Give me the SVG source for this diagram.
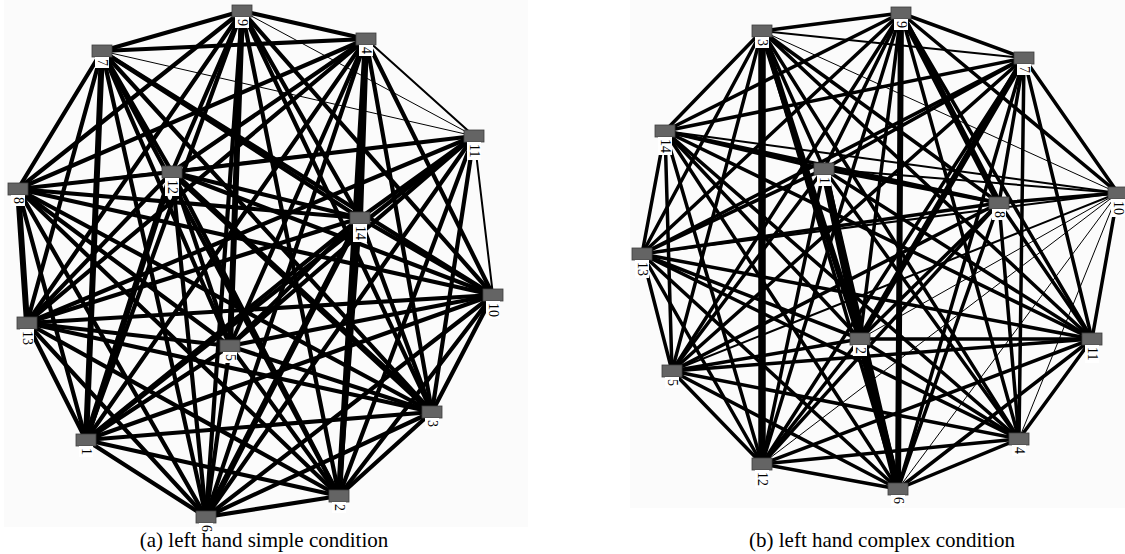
<svg xmlns="http://www.w3.org/2000/svg" width="1125" height="554" viewBox="0 0 1125 554">
<style>
.bg{fill:#fbfbfb}
.edges line{stroke:#000;stroke-linecap:round}
.t{stroke-width:1}
.n{stroke-width:2}
.k{stroke-width:6}
.K{stroke-width:7.5}
.nd{fill:#646464;stroke:#3c3c3c;stroke-width:0.8}
.lb{fill:#fff}
.lt{font-family:"Liberation Serif","Times New Roman",serif;font-size:14px;fill:#000}
.cap{font-family:"Liberation Serif","Times New Roman",serif;font-size:21px;fill:#000;text-anchor:middle}
</style>
<rect x="0" y="0" width="1125" height="554" fill="#fff"/>
<rect class="bg" x="4" y="0" width="524" height="527"/>
<rect class="bg" x="630" y="0" width="495" height="508"/>

<g id="edges-a" class="edges" stroke-width="4.2">
<line x1="86" y1="440" x2="339" y2="496"/>
<line x1="86" y1="440" x2="432" y2="412"/>
<line x1="86" y1="440" x2="366" y2="39"/>
<line x1="86" y1="440" x2="230" y2="346"/>
<line x1="86" y1="440" x2="206" y2="517"/>
<line x1="86" y1="440" x2="102" y2="51" class="k"/>
<line x1="86" y1="440" x2="18" y2="189"/>
<line x1="86" y1="440" x2="242" y2="11"/>
<line x1="86" y1="440" x2="493" y2="295"/>
<line x1="86" y1="440" x2="474" y2="136"/>
<line x1="86" y1="440" x2="172" y2="172" class="k"/>
<line x1="86" y1="440" x2="27" y2="323"/>
<line x1="86" y1="440" x2="360" y2="218"/>
<line x1="339" y1="496" x2="432" y2="412"/>
<line x1="339" y1="496" x2="366" y2="39" class="k"/>
<line x1="339" y1="496" x2="230" y2="346"/>
<line x1="339" y1="496" x2="206" y2="517"/>
<line x1="339" y1="496" x2="102" y2="51"/>
<line x1="339" y1="496" x2="18" y2="189"/>
<line x1="339" y1="496" x2="242" y2="11"/>
<line x1="339" y1="496" x2="493" y2="295"/>
<line x1="339" y1="496" x2="474" y2="136"/>
<line x1="339" y1="496" x2="172" y2="172"/>
<line x1="339" y1="496" x2="27" y2="323"/>
<line x1="339" y1="496" x2="360" y2="218"/>
<line x1="432" y1="412" x2="366" y2="39"/>
<line x1="432" y1="412" x2="230" y2="346"/>
<line x1="432" y1="412" x2="206" y2="517"/>
<line x1="432" y1="412" x2="102" y2="51"/>
<line x1="432" y1="412" x2="18" y2="189"/>
<line x1="432" y1="412" x2="242" y2="11"/>
<line x1="432" y1="412" x2="493" y2="295"/>
<line x1="432" y1="412" x2="474" y2="136"/>
<line x1="432" y1="412" x2="172" y2="172" class="k"/>
<line x1="432" y1="412" x2="27" y2="323"/>
<line x1="432" y1="412" x2="360" y2="218"/>
<line x1="366" y1="39" x2="230" y2="346"/>
<line x1="366" y1="39" x2="206" y2="517"/>
<line x1="366" y1="39" x2="102" y2="51"/>
<line x1="366" y1="39" x2="18" y2="189"/>
<line x1="366" y1="39" x2="242" y2="11"/>
<line x1="366" y1="39" x2="493" y2="295"/>
<line x1="366" y1="39" x2="474" y2="136" class="n"/>
<line x1="366" y1="39" x2="172" y2="172"/>
<line x1="366" y1="39" x2="27" y2="323"/>
<line x1="366" y1="39" x2="360" y2="218" class="k"/>
<line x1="230" y1="346" x2="206" y2="517"/>
<line x1="230" y1="346" x2="102" y2="51"/>
<line x1="230" y1="346" x2="18" y2="189"/>
<line x1="230" y1="346" x2="242" y2="11" class="k"/>
<line x1="230" y1="346" x2="493" y2="295"/>
<line x1="230" y1="346" x2="474" y2="136"/>
<line x1="230" y1="346" x2="172" y2="172"/>
<line x1="230" y1="346" x2="27" y2="323"/>
<line x1="230" y1="346" x2="360" y2="218"/>
<line x1="206" y1="517" x2="102" y2="51"/>
<line x1="206" y1="517" x2="18" y2="189"/>
<line x1="206" y1="517" x2="242" y2="11"/>
<line x1="206" y1="517" x2="493" y2="295"/>
<line x1="206" y1="517" x2="474" y2="136"/>
<line x1="206" y1="517" x2="172" y2="172"/>
<line x1="206" y1="517" x2="27" y2="323"/>
<line x1="206" y1="517" x2="360" y2="218" class="k"/>
<line x1="102" y1="51" x2="18" y2="189"/>
<line x1="102" y1="51" x2="242" y2="11"/>
<line x1="102" y1="51" x2="493" y2="295"/>
<line x1="102" y1="51" x2="474" y2="136" class="t"/>
<line x1="102" y1="51" x2="172" y2="172"/>
<line x1="102" y1="51" x2="27" y2="323"/>
<line x1="102" y1="51" x2="360" y2="218"/>
<line x1="18" y1="189" x2="242" y2="11"/>
<line x1="18" y1="189" x2="493" y2="295"/>
<line x1="18" y1="189" x2="474" y2="136" class="n"/>
<line x1="18" y1="189" x2="172" y2="172"/>
<line x1="18" y1="189" x2="27" y2="323" class="k"/>
<line x1="18" y1="189" x2="360" y2="218"/>
<line x1="242" y1="11" x2="493" y2="295"/>
<line x1="242" y1="11" x2="474" y2="136" class="t"/>
<line x1="242" y1="11" x2="172" y2="172"/>
<line x1="242" y1="11" x2="27" y2="323"/>
<line x1="242" y1="11" x2="360" y2="218"/>
<line x1="493" y1="295" x2="474" y2="136" class="n"/>
<line x1="493" y1="295" x2="172" y2="172"/>
<line x1="493" y1="295" x2="27" y2="323"/>
<line x1="493" y1="295" x2="360" y2="218"/>
<line x1="474" y1="136" x2="172" y2="172"/>
<line x1="474" y1="136" x2="27" y2="323"/>
<line x1="474" y1="136" x2="360" y2="218"/>
<line x1="172" y1="172" x2="27" y2="323"/>
<line x1="172" y1="172" x2="360" y2="218"/>
<line x1="27" y1="323" x2="360" y2="218"/>
</g>

<g id="edges-b" class="edges" stroke-width="3.5">
<line x1="824" y1="169" x2="860" y2="339" class="K"/>
<line x1="824" y1="169" x2="762" y2="31"/>
<line x1="824" y1="169" x2="1019" y2="439"/>
<line x1="824" y1="169" x2="672" y2="371"/>
<line x1="824" y1="169" x2="898" y2="489" class="k"/>
<line x1="824" y1="169" x2="1024" y2="58"/>
<line x1="824" y1="169" x2="999" y2="203"/>
<line x1="824" y1="169" x2="901" y2="13"/>
<line x1="824" y1="169" x2="1118" y2="193" class="n"/>
<line x1="824" y1="169" x2="1092" y2="339"/>
<line x1="824" y1="169" x2="762" y2="464"/>
<line x1="824" y1="169" x2="642" y2="254"/>
<line x1="824" y1="169" x2="665" y2="131"/>
<line x1="860" y1="339" x2="762" y2="31" class="k"/>
<line x1="860" y1="339" x2="1019" y2="439"/>
<line x1="860" y1="339" x2="672" y2="371"/>
<line x1="860" y1="339" x2="898" y2="489" class="K"/>
<line x1="860" y1="339" x2="1024" y2="58" class="k"/>
<line x1="860" y1="339" x2="999" y2="203"/>
<line x1="860" y1="339" x2="901" y2="13"/>
<line x1="860" y1="339" x2="1118" y2="193" class="t"/>
<line x1="860" y1="339" x2="1092" y2="339"/>
<line x1="860" y1="339" x2="762" y2="464"/>
<line x1="860" y1="339" x2="642" y2="254"/>
<line x1="860" y1="339" x2="665" y2="131"/>
<line x1="762" y1="31" x2="1019" y2="439"/>
<line x1="762" y1="31" x2="672" y2="371"/>
<line x1="762" y1="31" x2="898" y2="489"/>
<line x1="762" y1="31" x2="1024" y2="58" class="n"/>
<line x1="762" y1="31" x2="999" y2="203"/>
<line x1="762" y1="31" x2="901" y2="13"/>
<line x1="762" y1="31" x2="1118" y2="193" class="t"/>
<line x1="762" y1="31" x2="1092" y2="339"/>
<line x1="762" y1="31" x2="762" y2="464" class="K"/>
<line x1="762" y1="31" x2="642" y2="254"/>
<line x1="762" y1="31" x2="665" y2="131"/>
<line x1="1019" y1="439" x2="672" y2="371"/>
<line x1="1019" y1="439" x2="898" y2="489"/>
<line x1="1019" y1="439" x2="1024" y2="58"/>
<line x1="1019" y1="439" x2="999" y2="203"/>
<line x1="1019" y1="439" x2="901" y2="13"/>
<line x1="1019" y1="439" x2="1118" y2="193" class="t"/>
<line x1="1019" y1="439" x2="1092" y2="339"/>
<line x1="1019" y1="439" x2="762" y2="464"/>
<line x1="1019" y1="439" x2="642" y2="254"/>
<line x1="1019" y1="439" x2="665" y2="131"/>
<line x1="672" y1="371" x2="898" y2="489"/>
<line x1="672" y1="371" x2="1024" y2="58"/>
<line x1="672" y1="371" x2="999" y2="203"/>
<line x1="672" y1="371" x2="901" y2="13"/>
<line x1="672" y1="371" x2="1118" y2="193" class="n"/>
<line x1="672" y1="371" x2="1092" y2="339"/>
<line x1="672" y1="371" x2="762" y2="464"/>
<line x1="672" y1="371" x2="642" y2="254"/>
<line x1="672" y1="371" x2="665" y2="131"/>
<line x1="898" y1="489" x2="1024" y2="58"/>
<line x1="898" y1="489" x2="999" y2="203"/>
<line x1="898" y1="489" x2="901" y2="13" class="k"/>
<line x1="898" y1="489" x2="1118" y2="193" class="t"/>
<line x1="898" y1="489" x2="1092" y2="339"/>
<line x1="898" y1="489" x2="762" y2="464"/>
<line x1="898" y1="489" x2="642" y2="254"/>
<line x1="898" y1="489" x2="665" y2="131"/>
<line x1="1024" y1="58" x2="999" y2="203"/>
<line x1="1024" y1="58" x2="901" y2="13"/>
<line x1="1024" y1="58" x2="1118" y2="193"/>
<line x1="1024" y1="58" x2="1092" y2="339"/>
<line x1="1024" y1="58" x2="762" y2="464"/>
<line x1="1024" y1="58" x2="642" y2="254"/>
<line x1="1024" y1="58" x2="665" y2="131"/>
<line x1="999" y1="203" x2="901" y2="13" class="k"/>
<line x1="999" y1="203" x2="1118" y2="193"/>
<line x1="999" y1="203" x2="1092" y2="339"/>
<line x1="999" y1="203" x2="762" y2="464"/>
<line x1="999" y1="203" x2="642" y2="254"/>
<line x1="999" y1="203" x2="665" y2="131"/>
<line x1="901" y1="13" x2="1118" y2="193"/>
<line x1="901" y1="13" x2="1092" y2="339"/>
<line x1="901" y1="13" x2="762" y2="464"/>
<line x1="901" y1="13" x2="642" y2="254"/>
<line x1="901" y1="13" x2="665" y2="131"/>
<line x1="1118" y1="193" x2="1092" y2="339"/>
<line x1="1118" y1="193" x2="762" y2="464" class="t"/>
<line x1="1118" y1="193" x2="642" y2="254" class="n"/>
<line x1="1118" y1="193" x2="665" y2="131" class="n"/>
<line x1="1092" y1="339" x2="762" y2="464"/>
<line x1="1092" y1="339" x2="642" y2="254"/>
<line x1="1092" y1="339" x2="665" y2="131"/>
<line x1="762" y1="464" x2="642" y2="254"/>
<line x1="762" y1="464" x2="665" y2="131"/>
<line x1="642" y1="254" x2="665" y2="131"/>
</g>

<g id="a-n1"><rect class="nd" x="76" y="434" width="20" height="12"/><rect class="lb" x="79" y="446" width="14" height="11"/><text class="lt" transform="translate(82,448) rotate(90)">1</text></g>
<g id="a-n2"><rect class="nd" x="329" y="490" width="20" height="12"/><rect class="lb" x="332" y="502" width="14" height="11"/><text class="lt" transform="translate(335,504) rotate(90)">2</text></g>
<g id="a-n3"><rect class="nd" x="422" y="406" width="20" height="12"/><rect class="lb" x="425" y="418" width="14" height="11"/><text class="lt" transform="translate(428,420) rotate(90)">3</text></g>
<g id="a-n4"><rect class="nd" x="356" y="33" width="20" height="12"/><rect class="lb" x="359" y="45" width="14" height="11"/><text class="lt" transform="translate(362,47) rotate(90)">4</text></g>
<g id="a-n5"><rect class="nd" x="220" y="340" width="20" height="12"/><rect class="lb" x="223" y="352" width="14" height="11"/><text class="lt" transform="translate(226,354) rotate(90)">5</text></g>
<g id="a-n6"><rect class="nd" x="196" y="511" width="20" height="12"/><rect class="lb" x="199" y="523" width="14" height="11"/><text class="lt" transform="translate(202,525) rotate(90)">6</text></g>
<g id="a-n7"><rect class="nd" x="92" y="45" width="20" height="12"/><rect class="lb" x="95" y="57" width="14" height="11"/><text class="lt" transform="translate(98,59) rotate(90)">7</text></g>
<g id="a-n8"><rect class="nd" x="8" y="183" width="20" height="12"/><rect class="lb" x="11" y="195" width="14" height="11"/><text class="lt" transform="translate(14,197) rotate(90)">8</text></g>
<g id="a-n9"><rect class="nd" x="232" y="5" width="20" height="12"/><rect class="lb" x="235" y="17" width="14" height="11"/><text class="lt" transform="translate(238,19) rotate(90)">9</text></g>
<g id="a-n10"><rect class="nd" x="483" y="289" width="20" height="12"/><rect class="lb" x="486" y="301" width="14" height="18"/><text class="lt" transform="translate(489,303) rotate(90)">10</text></g>
<g id="a-n11"><rect class="nd" x="464" y="130" width="20" height="12"/><rect class="lb" x="467" y="142" width="14" height="18"/><text class="lt" transform="translate(470,144) rotate(90)">11</text></g>
<g id="a-n12"><rect class="nd" x="162" y="166" width="20" height="12"/><rect class="lb" x="165" y="178" width="14" height="18"/><text class="lt" transform="translate(168,180) rotate(90)">12</text></g>
<g id="a-n13"><rect class="nd" x="17" y="317" width="20" height="12"/><rect class="lb" x="20" y="329" width="14" height="18"/><text class="lt" transform="translate(23,331) rotate(90)">13</text></g>
<g id="a-n14"><rect class="nd" x="350" y="212" width="20" height="12"/><rect class="lb" x="353" y="224" width="14" height="18"/><text class="lt" transform="translate(356,226) rotate(90)">14</text></g>

<g id="b-n1"><rect class="nd" x="814" y="163" width="20" height="12"/><rect class="lb" x="817" y="175" width="14" height="11"/><text class="lt" transform="translate(820,177) rotate(90)">1</text></g>
<g id="b-n2"><rect class="nd" x="850" y="333" width="20" height="12"/><rect class="lb" x="853" y="345" width="14" height="11"/><text class="lt" transform="translate(856,347) rotate(90)">2</text></g>
<g id="b-n3"><rect class="nd" x="752" y="25" width="20" height="12"/><rect class="lb" x="755" y="37" width="14" height="11"/><text class="lt" transform="translate(758,39) rotate(90)">3</text></g>
<g id="b-n4"><rect class="nd" x="1009" y="433" width="20" height="12"/><rect class="lb" x="1012" y="445" width="14" height="11"/><text class="lt" transform="translate(1015,447) rotate(90)">4</text></g>
<g id="b-n5"><rect class="nd" x="662" y="365" width="20" height="12"/><rect class="lb" x="665" y="377" width="14" height="11"/><text class="lt" transform="translate(668,379) rotate(90)">5</text></g>
<g id="b-n6"><rect class="nd" x="888" y="483" width="20" height="12"/><rect class="lb" x="891" y="495" width="14" height="11"/><text class="lt" transform="translate(894,497) rotate(90)">6</text></g>
<g id="b-n7"><rect class="nd" x="1014" y="52" width="20" height="12"/><rect class="lb" x="1017" y="64" width="14" height="11"/><text class="lt" transform="translate(1020,66) rotate(90)">7</text></g>
<g id="b-n8"><rect class="nd" x="989" y="197" width="20" height="12"/><rect class="lb" x="992" y="209" width="14" height="11"/><text class="lt" transform="translate(995,211) rotate(90)">8</text></g>
<g id="b-n9"><rect class="nd" x="891" y="7" width="20" height="12"/><rect class="lb" x="894" y="19" width="14" height="11"/><text class="lt" transform="translate(897,21) rotate(90)">9</text></g>
<g id="b-n10"><rect class="nd" x="1108" y="187" width="20" height="12"/><rect class="lb" x="1111" y="199" width="14" height="18"/><text class="lt" transform="translate(1114,201) rotate(90)">10</text></g>
<g id="b-n11"><rect class="nd" x="1082" y="333" width="20" height="12"/><rect class="lb" x="1085" y="345" width="14" height="18"/><text class="lt" transform="translate(1088,347) rotate(90)">11</text></g>
<g id="b-n12"><rect class="nd" x="752" y="458" width="20" height="12"/><rect class="lb" x="755" y="470" width="14" height="18"/><text class="lt" transform="translate(758,472) rotate(90)">12</text></g>
<g id="b-n13"><rect class="nd" x="632" y="248" width="20" height="12"/><rect class="lb" x="635" y="260" width="14" height="18"/><text class="lt" transform="translate(638,262) rotate(90)">13</text></g>
<g id="b-n14"><rect class="nd" x="655" y="125" width="20" height="12"/><rect class="lb" x="658" y="137" width="14" height="18"/><text class="lt" transform="translate(661,139) rotate(90)">14</text></g>

<text class="cap" x="264" y="547">(a) left hand simple condition</text>
<text class="cap" x="882" y="547">(b) left hand complex condition</text>
</svg>
